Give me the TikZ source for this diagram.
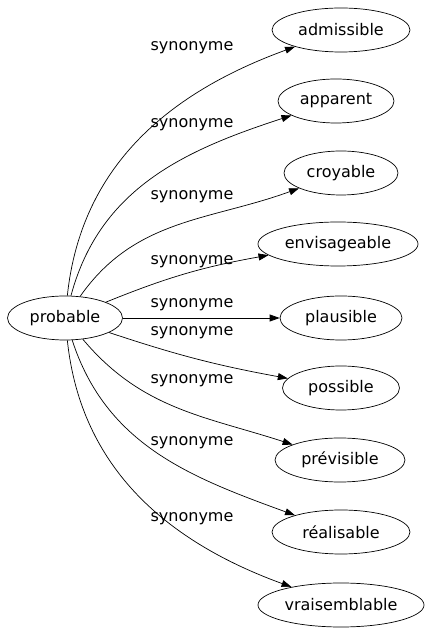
\documentclass[tikz,border=0pt]{standalone}
\usepackage{fontspec}
\setmainfont{DejaVu Sans}
\usepackage{tikz}
\usetikzlibrary{shapes.geometric,arrows.meta}

\tikzset{
	mot/.style={draw,ellipse,inner sep=0pt,minimum height=44pt,line width=0.7pt,font=\fontsize{16}{18}\selectfont},
	lien/.style={line width=0.7pt,-{Triangle[length=10pt,width=7pt]}},
	etiq/.style={font=\fontsize{16}{18}\selectfont}
}

\begin{document}
\begin{tikzpicture}[x=1pt,y=1pt]
	\useasboundingbox (0,0) rectangle (429,635);
	\node[mot,minimum width=115pt] (probable) at (65,317) {probable};
	\node[mot,minimum width=138pt] (admissible) at (341,605) {admissible};
	\node[mot,minimum width=116pt] (apparent) at (336,534) {apparent};
	\node[mot,minimum width=114pt] (croyable) at (341,462) {croyable};
	\node[mot,minimum width=160pt] (envisageable) at (338,391) {envisageable};
	\node[mot,minimum width=122pt] (plausible) at (341,317) {plausible};
	\node[mot,minimum width=117pt] (possible) at (341,247) {possible};
	\node[mot,minimum width=130pt] (previsible) at (340,175) {prévisible};
	\node[mot,minimum width=138pt] (realisable) at (341,103) {réalisable};
	\node[mot,minimum width=166pt] (vraisemblable) at (341,30) {vraisemblable};
	\draw[lien] (probable) to[out=84,in=200] (admissible);
	\draw[lien] (probable) to[out=75,in=198] (apparent);
	\draw[lien] (probable) to[out=55,in=200] (croyable);
	\draw[lien] (probable) to[bend left=6] (envisageable);
	\draw[lien] (probable) -- (plausible);
	\draw[lien] (probable) to[bend right=4] (possible);
	\draw[lien] (probable) to[out=-50,in=162] (previsible);
	\draw[lien] (probable) to[out=-72,in=160] (realisable);
	\draw[lien] (probable) to[out=-84,in=160] (vraisemblable);
	\node[etiq] (s1) at (192,587) {synonyme};
	\node[etiq] (s2) at (192,510) {synonyme};
	\node[etiq] (s3) at (192,438) {synonyme};
	\node[etiq] (s4) at (192,373) {synonyme};
	\node[etiq] (s5) at (192,330) {synonyme};
	\node[etiq] (s6) at (192,302) {synonyme};
	\node[etiq] (s7) at (192,254) {synonyme};
	\node[etiq] (s8) at (192,192) {synonyme};
	\node[etiq] (s9) at (192,116) {synonyme};
\end{tikzpicture}
\end{document}
